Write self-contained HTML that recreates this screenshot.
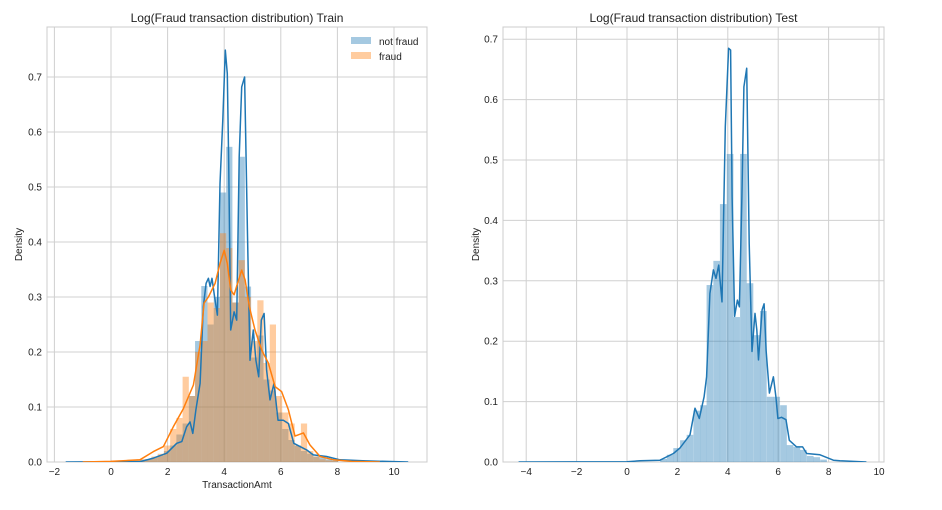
<!DOCTYPE html>
<html><head><meta charset="utf-8"><style>
body{margin:0;background:#fff;}
svg{display:block;font-family:"Liberation Sans",sans-serif;}
</style></head><body>
<svg id="chart" width="942" height="510" viewBox="0 0 942 510"></svg>
<script>
// ---- data ----
const binWidthTrain = 0.22;
const trainBinCenters = [0.66,0.88,1.10,1.32,1.54,1.76,1.98,2.20,2.42,2.64,2.86,3.08,3.30,3.52,3.74,3.96,4.18,4.40,4.62,4.84,5.06,5.28,5.50,5.72,5.94,6.16,6.38,6.60,6.82,7.04,7.26,7.48,7.70,7.92];
const notFraudHist = [0.002,0.003,0.004,0.005,0.008,0.012,0.02,0.03,0.05,0.07,0.12,0.22,0.32,0.25,0.30,0.49,0.573,0.29,0.555,0.319,0.19,0.23,0.15,0.13,0.09,0.06,0.04,0.03,0.02,0.015,0.01,0.008,0.005,0.003];
const fraudHist = [0.004,0.004,0.005,0.005,0.01,0.015,0.03,0.06,0.08,0.155,0.12,0.2,0.22,0.29,0.28,0.416,0.389,0.29,0.367,0.30,0.22,0.294,0.18,0.25,0.12,0.09,0.07,0.03,0.07,0.02,0.01,0.005,0.003,0.002];
const notFraudKdeX = [-1.6,0,1.02,1.50,1.97,2.32,2.50,2.67,2.79,2.89,3.00,3.15,3.26,3.36,3.44,3.50,3.57,3.66,3.76,3.85,3.95,4.04,4.11,4.16,4.23,4.35,4.44,4.53,4.62,4.72,4.82,4.91,5.03,5.12,5.22,5.31,5.41,5.50,5.62,5.76,5.90,6.09,6.27,6.46,6.91,7.15,7.62,8.09,9.0,10.5];
const notFraudKdeY = [0,0.0003,0.0006,0.007,0.016,0.034,0.037,0.064,0.073,0.052,0.095,0.143,0.282,0.325,0.334,0.319,0.334,0.300,0.267,0.506,0.622,0.749,0.706,0.543,0.24,0.273,0.258,0.555,0.682,0.70,0.422,0.185,0.24,0.185,0.155,0.258,0.27,0.167,0.113,0.143,0.076,0.076,0.07,0.034,0.022,0.013,0.010,0.004,0.002,0];
const fraudKdeX = [-1.0,0,1.02,1.50,1.85,2.20,2.56,2.91,3.15,3.29,3.44,3.68,3.85,4.00,4.11,4.23,4.35,4.47,4.62,4.74,4.89,5.09,5.32,5.56,5.80,6.03,6.27,6.50,6.80,7.03,7.39,7.86,8.5,9.5];
const fraudKdeY = [0,0.001,0.004,0.019,0.028,0.064,0.097,0.14,0.213,0.289,0.30,0.325,0.361,0.385,0.361,0.313,0.304,0.325,0.349,0.331,0.282,0.24,0.204,0.18,0.137,0.128,0.095,0.047,0.053,0.031,0.01,0.004,0.001,0];
const binWidthTest = 0.265;
const testBinCenters = [1.45,1.71,1.97,2.24,2.50,2.77,3.03,3.29,3.56,3.82,4.09,4.35,4.62,4.88,5.15,5.41,5.68,5.94,6.21,6.47,6.74,7.00,7.27,7.53,7.80];
const testHist = [0.005,0.012,0.023,0.036,0.045,0.085,0.094,0.293,0.333,0.427,0.51,0.24,0.51,0.296,0.21,0.25,0.108,0.108,0.094,0.028,0.025,0.02,0.01,0.008,0.004];
const testKdeX = [-4.3,0,0.52,1.31,1.84,2.10,2.50,2.70,2.87,3.06,3.16,3.29,3.43,3.53,3.64,3.77,3.90,4.03,4.11,4.17,4.27,4.38,4.46,4.56,4.64,4.75,4.85,4.96,5.08,5.15,5.22,5.36,5.44,5.52,5.65,5.81,5.91,5.99,6.13,6.31,6.44,6.73,6.97,7.13,7.66,8.19,8.45,9.5];
const testKdeY = [0,0.0005,0.002,0.003,0.014,0.023,0.045,0.089,0.072,0.108,0.141,0.279,0.318,0.304,0.326,0.265,0.555,0.685,0.682,0.439,0.241,0.268,0.257,0.439,0.621,0.652,0.362,0.183,0.246,0.219,0.169,0.252,0.262,0.185,0.114,0.141,0.108,0.072,0.074,0.070,0.036,0.025,0.025,0.014,0.012,0.003,0.002,0];
const trainXTicks = [-2,0,2,4,6,8,10];
const trainYTicks = [0,0.1,0.2,0.3,0.4,0.5,0.6,0.7];
const testXTicks = [-4,-2,0,2,4,6,8,10];
const testYTicks = [0,0.1,0.2,0.3,0.4,0.5,0.6,0.7];

const NS='http://www.w3.org/2000/svg';
const svg=document.getElementById('chart');
function mk(tag,attrs,parent){const e=document.createElementNS(NS,tag);for(const k in attrs)e.setAttribute(k,attrs[k]);(parent||svg).appendChild(e);return e;}

function panel(opt){
  const g=mk('g',{});
  
  
  const L=opt.left,R=opt.right,T=27,B=462;
  const xs=v=>opt.x0+v*opt.xk;
  const ys=v=>B-v*opt.yk;
  opt.xTicks.forEach(t=>{
    const gl=mk('line',{x1:xs(t),x2:xs(t),y1:T,y2:B,stroke:'#d0d0d0','stroke-width':1},g);
    
    
    const tl=mk('text',{x:xs(t),y:B+13,'font-size':10,'text-anchor':'middle',fill:'#222'},g);
    tl.textContent=(t<0?'\u2212'+(-t):t);
    
    
  });
  opt.yTicks.forEach(t=>{
    const gl=mk('line',{x1:L,x2:R,y1:ys(t),y2:ys(t),stroke:'#d0d0d0','stroke-width':1},g);
    
    
    const tl=mk('text',{x:L-5,y:ys(t)+3.5,'font-size':10,'text-anchor':'end',fill:'#222'},g);
    tl.textContent=t.toFixed(1);
    
    
  });
  const fr=mk('rect',{x:L,y:T,width:R-L,height:B-T,fill:'none',stroke:'#cccccc'},g);
  
  
  const clip='clip-'+opt.name;
  const cp=mk('clipPath',{id:clip},g);mk('rect',{x:L,y:T,width:R-L,height:B-T},cp);
  const inner=mk('g',{'clip-path':'url(#'+clip+')'},g);
  opt.hists.forEach(h=>{
    h.values.forEach((v,i)=>{
      const c=opt.centers[i];
      const r=mk('rect',{x:xs(c-opt.bw/2),y:ys(v),width:opt.bw*opt.xk,height:v*opt.yk,fill:h.color,'fill-opacity':0.4},inner);
      
      
    });
  });
  opt.kdes.forEach(k=>{
    const d=k.xs.map((x,i)=>(i?'L':'M')+xs(x).toFixed(1)+','+ys(k.ys[i]).toFixed(1)).join(' ');
    const p=mk('path',{d:d,fill:'none',stroke:k.color,'stroke-width':1.5,'stroke-linejoin':'round'},inner);
    
    
  });
  const ti=mk('text',{x:(L+R)/2,y:22,'font-size':12,'text-anchor':'middle',fill:'#222'},g);
  ti.textContent=opt.title;
  
  
  const yl=mk('text',{x:0,y:0,'font-size':10,'text-anchor':'middle',fill:'#222',transform:'translate('+(opt.ylx)+','+((T+B)/2)+') rotate(-90)'},g);
  yl.textContent='Density';
  
  
  if(opt.xlabel){
    const xl=mk('text',{x:(L+R)/2,y:488,'font-size':10,'text-anchor':'middle',fill:'#222'},g);
    xl.textContent=opt.xlabel;
    
    
  }
  return g;
}

panel({name:'train-panel',left:47,right:427,x0:111,xk:28.3,yk:550,xTicks:trainXTicks,yTicks:trainYTicks,
  centers:trainBinCenters,bw:binWidthTrain,
  hists:[{name:'not-fraud-hist',values:notFraudHist,color:'#1f77b4'},{name:'fraud-hist',values:fraudHist,color:'#ff7f0e'}],
  kdes:[{name:'not-fraud-kde',xs:notFraudKdeX,ys:notFraudKdeY,color:'#1f77b4'},{name:'fraud-kde',xs:fraudKdeX,ys:fraudKdeY,color:'#ff7f0e'}],
  title:'Log(Fraud transaction distribution) Train',ylx:22,xlabel:'TransactionAmt'});

panel({name:'test-panel',left:503,right:884,x0:627,xk:25.2,yk:604,xTicks:testXTicks,yTicks:testYTicks,
  centers:testBinCenters,bw:binWidthTest,
  hists:[{name:'test-hist',values:testHist,color:'#1f77b4'}],
  kdes:[{name:'test-kde',xs:testKdeX,ys:testKdeY,color:'#1f77b4'}],
  title:'Log(Fraud transaction distribution) Test',ylx:479});

const lg=mk('g',{});


const e1=mk('rect',{x:351,y:37,width:20,height:7,fill:'#1f77b4','fill-opacity':0.4},lg);


const t1=mk('text',{x:379,y:45,'font-size':10,fill:'#222'},lg);t1.textContent='not fraud';


const e2=mk('rect',{x:351,y:52,width:20,height:7,fill:'#ff7f0e','fill-opacity':0.4},lg);


const t2=mk('text',{x:379,y:60,'font-size':10,fill:'#222'},lg);t2.textContent='fraud';


</script>
</body></html>
